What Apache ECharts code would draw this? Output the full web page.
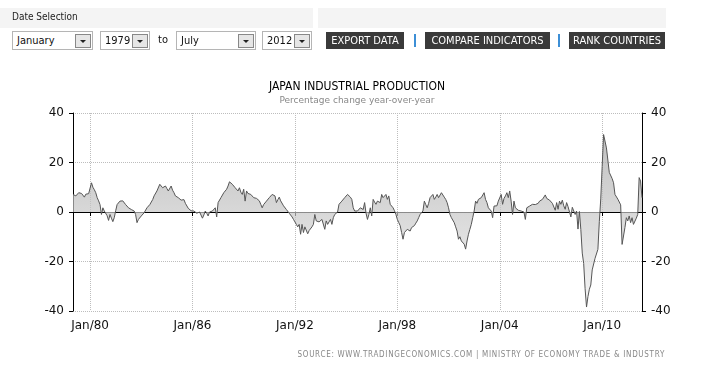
<!DOCTYPE html>
<html><head><meta charset="utf-8">
<script src="https://cdn.jsdelivr.net/npm/echarts@6/dist/echarts.min.js"></script>
<style>
html,body{margin:0;padding:0;background:#fff;width:706px;height:379px;overflow:hidden;font-family:"DejaVu Sans Condensed","DejaVu Sans",Tahoma,sans-serif;}
#chart{position:absolute;left:0;top:0;width:706px;height:379px;}
.abs{position:absolute;}
.band{position:absolute;top:8px;height:20px;background:#f4f4f4;}
.sel{position:absolute;top:31px;height:17px;border:1px solid #b5b5b5;background:#fff;font-size:11px;line-height:17px;color:#111;box-sizing:content-box;}
.sel span{position:absolute;left:4px;top:0;}
.dd{position:absolute;top:2px;width:14px;height:12px;border:1px solid #888;background:#e6e6e6;}
.dd:after{content:"";position:absolute;left:4px;top:5px;border-left:3px solid transparent;border-right:3px solid transparent;border-top:3px solid #222;}
.btn{position:absolute;top:32px;height:17px;background:#3a3a3a;color:#fff;font-size:11px;line-height:17px;text-align:center;}
.bar{position:absolute;top:34px;width:2px;height:13px;background:#3d8fd6;}
</style>
</head><body>
<div id="chart"></div>
<div class="band" style="left:0;width:313px;"></div>
<div class="band" style="left:318px;width:348px;"></div>
<div class="abs" style="left:12px;top:11px;font-size:10px;color:#222;">Date Selection</div>
<div class="sel" style="left:12px;width:79px;"><span>January</span><div class="dd" style="left:62px;"></div></div>
<div class="sel" style="left:100px;width:48px;"><span>1979</span><div class="dd" style="left:31px;"></div></div>
<div class="abs" style="left:158px;top:33px;font-size:11px;color:#111;">to</div>
<div class="sel" style="left:176px;width:78px;"><span>July</span><div class="dd" style="left:61px;"></div></div>
<div class="sel" style="left:262px;width:48px;"><span>2012</span><div class="dd" style="left:31px;"></div></div>
<div class="btn" style="left:326px;width:78px;">EXPORT DATA</div>
<div class="bar" style="left:414px;"></div>
<div class="btn" style="left:425px;width:125px;">COMPARE INDICATORS</div>
<div class="bar" style="left:558px;"></div>
<div class="btn" style="left:569px;width:96px;">RANK COUNTRIES</div>
<div class="abs" style="right:41px;top:350px;font-size:8px;color:#888;letter-spacing:0.7px;">SOURCE: WWW.TRADINGECONOMICS.COM | MINISTRY OF ECONOMY TRADE &amp; INDUSTRY</div>
<script>
// Monthly YoY % change, Jan 1979 – May 2012
const y1979 = [7.1, 6.8, 6.5, 7.0, 7.8, 7.6, 7.5, 7.0, 6.0, 7.2, 7.8, 7.4];
const y1980 = [7.8, 11.8, 10.0, 9.0, 7.8, 5.8, 4.5, 3.0, -1.0, 1.7, 0.4, 0.0];
const y1981 = [-1.5, -3.4, -1.0, -2.5, -3.9, -2.3, 0.5, 3.0, 3.8, 4.4, 5.1, 4.5];
const y1982 = [3.8, 3.0, 2.2, 1.7, 2.5, 1.0, 0.8, 0.4, -1.0, -4.3, -3.0, -2.4];
const y1983 = [-1.6, -1.0, -0.3, 0.5, 1.7, 2.5, 3.0, 3.8, 5.0, 6.5, 7.2, 8.5];
const y1984 = [9.0, 11.2, 10.5, 9.8, 10.2, 10.5, 9.5, 8.5, 9.2, 10.5, 8.8, 7.8];
const y1985 = [6.5, 7.0, 5.8, 5.8, 4.8, 4.4, 5.0, 3.5, 3.1, 1.5, 1.0, 0.5];
const y1986 = [0.0, 0.4, 0.5, -0.5, -1.0, 0.0, -0.8, -2.5, -1.2, 0.4, -0.5, -1.6];
const y1987 = [0.0, -0.8, 0.4, 0.0, 1.7, -2.0, 3.8, 3.0, 5.8, 5.0, 7.8, 7.0];
const y1988 = [9.2, 10.5, 12.2, 11.5, 11.2, 10.5, 9.8, 9.0, 8.5, 9.8, 8.0, 7.1];
const y1989 = [9.2, 4.4, 8.5, 7.5, 7.8, 7.1, 6.5, 5.8, 6.2, 5.5, 5.1, 4.5];
const y1990 = [3.1, 1.7, 3.0, 3.5, 4.4, 5.0, 5.8, 6.5, 7.1, 6.8, 6.5, 3.8];
const y1991 = [5.0, 6.0, 4.5, 3.8, 2.5, 1.7, 1.0, 0.5, -0.5, -1.0, -2.0, -3.0];
const y1992 = [-4.0, -5.0, -6.0, -5.0, -9.0, -5.0, -8.3, -6.0, -5.8, -8.8, -7.5, -8.3];
const y1993 = [-6.0, -5.0, -1.0, -3.6, -4.3, -4.0, -4.3, -3.0, -3.4, -7.0, -3.6, -5.0];
const y1994 = [-4.0, -3.0, -5.0, -2.3, -1.0, -0.5, 0.0, 3.1, 3.5, 4.4, 5.1, 5.8];
const y1995 = [6.5, 7.1, 6.5, 6.0, 5.1, 1.7, 0.4, 1.0, 0.4, 1.0, 1.7, 1.2];
const y1996 = [1.0, 3.8, -0.5, -3.0, -1.0, 1.7, -1.6, 5.1, 4.0, 3.1, 4.4, 5.1];
const y1997 = [3.8, 7.1, 5.8, 6.5, 7.1, 5.1, 6.5, 3.1, 2.5, 1.7, 0.5, -1.0];
const y1998 = [-3.0, -4.3, -5.5, -8.3, -11.0, -8.3, -9.0, -7.0, -7.5, -7.7, -6.3, -6.5];
const y1999 = [-5.5, -4.5, -3.6, -2.3, -1.0, -0.5, 0.4, 4.4, 3.0, 1.7, 3.5, 5.8];
const y2000 = [6.5, 7.1, 5.1, 6.0, 7.1, 5.8, 6.5, 7.8, 7.1, 6.0, 5.1, 3.8];
const y2001 = [1.7, -1.0, -2.3, -3.0, -4.3, -6.0, -7.7, -11.0, -10.0, -11.7, -12.5, -13.0];
const y2002 = [-15.0, -11.7, -9.0, -7.0, -5.0, -2.3, 0.4, 4.4, 3.5, 5.1, 4.8, 5.8];
const y2003 = [6.0, 7.8, 5.1, 3.8, 1.7, 2.4, 0.4, -2.3, 2.4, 3.1, 2.5, 4.4];
const y2004 = [4.4, 7.1, 3.1, 5.5, 6.5, 7.8, 5.8, 8.5, 4.4, -1.0, 4.4, 1.7];
const y2005 = [1.0, 0.7, 0.5, 0.4, -0.3, 0.0, -3.0, 1.7, 2.0, 2.4, 2.0, 3.1];
const y2006 = [3.1, 3.0, 3.1, 3.5, 4.4, 4.0, 5.1, 4.5, 6.9, 5.5, 5.1, 4.8];
const y2007 = [4.4, 3.5, 3.1, 0.7, 3.8, 1.1, 4.4, 3.1, 4.8, 2.5, 1.1, 3.8];
const y2008 = [2.2, 2.5, -2.0, 1.9, 1.1, -1.0, 0.4, -6.9, 0.2, -7.1, -16.6, -20.8];
const y2009 = [-31.0, -38.4, -34.2, -31.2, -29.5, -23.4, -22.9, -18.7, -19.0, -15.1, -3.9, 5.3];
const y2010 = [18.4, 31.3, 31.8, 25.9, 21.0, 16.0, 15.2, 13.5, 11.8, 7.1, 6.5, 5.2];
const y2011 = [4.6, 2.9, -13.1, -13.6, -6.3, -2.3, -3.6, -1.6, -4.3, -2.3, -5.0, -4.3];
const y2012 = [-2.5, -1.0, 13.9, 12.5, 5.8];

const yearly = [y1979,y1980,y1981,y1982,y1983,y1984,y1985,y1986,y1987,y1988,y1989,y1990,y1991,y1992,y1993,y1994,y1995,y1996,y1997,y1998,y1999,y2000,y2001,y2002,y2003,y2004,y2005,y2006,y2007,y2008,y2009,y2010,y2011,y2012];
const firstYear = 1979;
const monthNames = ['Jan','Feb','Mar','Apr','May','Jun','Jul','Aug','Sep','Oct','Nov','Dec'];
const labelYears = [1980, 1986, 1992, 1998, 2004, 2010];
const yTicks = [-40, -20, 0, 20, 40];

const categories = [];
const values = [];
yearly.forEach((arr, yi) => {
  const yr = firstYear + yi;
  arr.forEach((v, mi) => {
    categories.push(monthNames[mi] + '/' + String(yr).slice(2));
    values.push(v);
  });
});
const labelCats = labelYears.map(y => 'Jan/' + String(y).slice(2));
const showFn = (idx, val) => labelCats.indexOf(val) >= 0;

const chart = echarts.init(document.getElementById('chart'), null, {renderer:'canvas'});
const FONT = '"DejaVu Sans", Tahoma, sans-serif';
const CFONT = '"DejaVu Sans Condensed", "DejaVu Sans", sans-serif';
const yAxisCommon = {
  type:'value', min:yTicks[0], max:yTicks[yTicks.length-1], interval:20,
  axisLine:{show:true, lineStyle:{color:'#000', width:1}},
  axisTick:{show:true, length:4, lineStyle:{color:'#000'}},
  axisLabel:{color:'#111', fontSize:12, fontFamily:FONT, margin:9}
};
chart.setOption({
  animation:false,
  graphic:[
    {type:'text', x:357, y:81, style:{text:'JAPAN INDUSTRIAL PRODUCTION', fill:'#000', font:'12px ' + CFONT, textAlign:'center'}},
    {type:'text', x:357, y:96, style:{text:'Percentage change year-over-year', fill:'#888', font:'9px ' + FONT, textAlign:'center'}}
  ],
  grid:{left:73, right:64, top:113, bottom:68},
  xAxis:{
    type:'category', data:categories, boundaryGap:false,
    axisLine:{lineStyle:{color:'#000', width:1}},
    axisTick:{show:true, interval:showFn, length:4, lineStyle:{color:'#000'}},
    axisLabel:{interval:showFn, color:'#111', fontSize:12, fontFamily:FONT, margin:9},
    splitLine:{show:true, interval:showFn, lineStyle:{type:'dotted', color:'#bdbdbd'}}
  },
  yAxis:[
    Object.assign({}, yAxisCommon, {position:'left', splitLine:{show:true, lineStyle:{type:'dotted', color:'#bdbdbd'}}}),
    Object.assign({}, yAxisCommon, {position:'right', splitLine:{show:false}})
  ],
  series:[{
    type:'line', data:values, yAxisIndex:0, showSymbol:false, symbol:'none',
    lineStyle:{color:'#555', width:1},
    areaStyle:{origin:'auto', color:new echarts.graphic.LinearGradient(0,0,0,1,[
      {offset:0, color:'#a4a4a4'},{offset:0.5, color:'#cacaca'},{offset:1, color:'#f0f0f0'}])}
  }]
});
</script>
</body></html>
